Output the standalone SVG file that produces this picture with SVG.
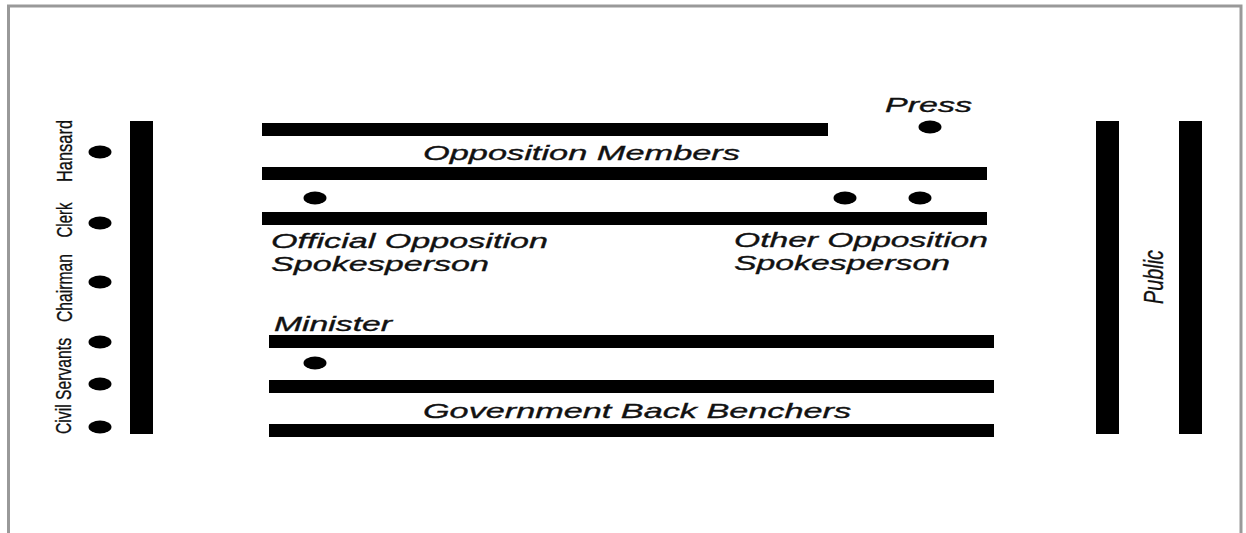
<svg xmlns="http://www.w3.org/2000/svg" width="1246" height="533" viewBox="0 0 1246 533">
<style>
.bar{fill:#000}
.dot{fill:#000}
.lbl{font-family:"Liberation Sans",Arial,sans-serif;font-size:21px;font-style:italic;fill:#111;stroke:#111;stroke-width:0.35}
.side{font-family:"Liberation Sans",Arial,sans-serif;font-size:22px;fill:#111;stroke:#111;stroke-width:0.3}
.pub{font-family:"Liberation Sans",Arial,sans-serif;font-size:27px;font-style:italic;fill:#111;stroke:#111;stroke-width:0.3}
</style>
<rect x="0" y="0" width="1246" height="533" fill="#fff"/>
<path d="M8.5,533 V6 H1241 V533" fill="none" stroke="#999" stroke-width="3"/>

<g id="left-wall">
<rect class="bar" x="130" y="121" width="23" height="313"/>
</g>
<g id="hansard">
<ellipse class="dot" cx="100" cy="152" rx="11.5" ry="6.5"/>
<text class="side" transform="translate(72,151) rotate(-90)" text-anchor="middle" textLength="62" lengthAdjust="spacingAndGlyphs">Hansard</text>
</g>
<g id="clerk">
<ellipse class="dot" cx="100" cy="223" rx="11.5" ry="6.5"/>
<text class="side" transform="translate(72,220) rotate(-90)" text-anchor="middle" textLength="35" lengthAdjust="spacingAndGlyphs">Clerk</text>
</g>
<g id="chairman">
<ellipse class="dot" cx="100" cy="282" rx="11.5" ry="6.5"/>
<text class="side" transform="translate(72,288) rotate(-90)" text-anchor="middle" textLength="68" lengthAdjust="spacingAndGlyphs">Chairman</text>
</g>
<g id="civil-servants">
<ellipse class="dot" cx="100" cy="342" rx="11.5" ry="6.5"/>
<ellipse class="dot" cx="100" cy="384" rx="11.5" ry="6.5"/>
<ellipse class="dot" cx="100" cy="427" rx="11.5" ry="6.5"/>
<text class="side" transform="translate(71,386) rotate(-90)" text-anchor="middle" textLength="96" lengthAdjust="spacingAndGlyphs">Civil Servants</text>
</g>

<g id="opposition-benches">
<rect class="bar" x="262" y="123" width="566" height="13"/>
<rect class="bar" x="262" y="167" width="725" height="13"/>
<rect class="bar" x="262" y="212" width="725" height="13"/>
<text class="lbl" x="423" y="160" textLength="317" lengthAdjust="spacingAndGlyphs">Opposition Members</text>
</g>
<g id="press">
<ellipse class="dot" cx="930" cy="127" rx="11.5" ry="6.5"/>
<text class="lbl" x="885" y="112" textLength="87" lengthAdjust="spacingAndGlyphs">Press</text>
</g>
<g id="official-opposition">
<ellipse class="dot" cx="315" cy="198" rx="11.5" ry="6.5"/>
<text class="lbl" x="271" y="248" textLength="277" lengthAdjust="spacingAndGlyphs">Official Opposition</text>
<text class="lbl" x="271" y="271" textLength="218" lengthAdjust="spacingAndGlyphs">Spokesperson</text>
</g>
<g id="other-opposition">
<ellipse class="dot" cx="845" cy="198" rx="11.5" ry="6.5"/>
<ellipse class="dot" cx="920" cy="198" rx="11.5" ry="6.5"/>
<text class="lbl" x="734" y="247" textLength="254" lengthAdjust="spacingAndGlyphs">Other Opposition</text>
<text class="lbl" x="734" y="270" textLength="216" lengthAdjust="spacingAndGlyphs">Spokesperson</text>
</g>

<g id="government-benches">
<rect class="bar" x="269" y="335" width="725" height="13"/>
<rect class="bar" x="269" y="380" width="725" height="13"/>
<rect class="bar" x="269" y="424" width="725" height="13"/>
<text class="lbl" x="423" y="418" textLength="428" lengthAdjust="spacingAndGlyphs">Government Back Benchers</text>
</g>
<g id="minister">
<ellipse class="dot" cx="315" cy="363" rx="11.5" ry="6.5"/>
<text class="lbl" x="274" y="331" textLength="118" lengthAdjust="spacingAndGlyphs">Minister</text>
</g>

<g id="public">
<rect class="bar" x="1096" y="121" width="23" height="313"/>
<rect class="bar" x="1179" y="121" width="23" height="313"/>
<text class="pub" transform="translate(1163,277) rotate(-90)" text-anchor="middle" textLength="54" lengthAdjust="spacingAndGlyphs">Public</text>
</g>
</svg>
